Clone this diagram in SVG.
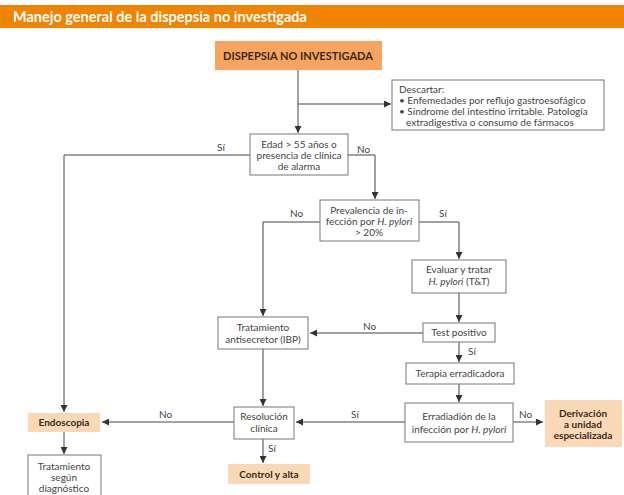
<svg xmlns="http://www.w3.org/2000/svg" width="624" height="495" viewBox="0 0 624 495">
<defs>
<marker id="arr" viewBox="0 0 10 10" refX="10" refY="5" markerWidth="7" markerHeight="7" markerUnits="userSpaceOnUse" orient="auto">
<path d="M0,0 L10,5 L0,10 z" fill="#333"/>
</marker>
<style>
text{font-family:Lato,"Liberation Sans",sans-serif;fill:#444;font-size:10px}
.c{text-anchor:middle}
.b{font-weight:bold;fill:#3a2a1a}
.box{fill:#fff;stroke:#777;stroke-width:1}
.pe{fill:#fbd9b6}
.ln{fill:none;stroke:#444;stroke-width:1}
.lbl{font-size:10px}
</style>
</defs>
<rect width="624" height="495" fill="#fff"/>
<g id="header">
<rect x="0" y="5" width="624" height="23" fill="#f08400"/>
<text x="13" y="21.5" style="font-size:14.5px;font-weight:bold;fill:#fff">Manejo general de la dispepsia no investigada</text>
</g>
<g id="connectors">
<path class="ln" d="M298,70 V133" marker-end="url(#arr)"/>
<path class="ln" d="M298,104 H391" marker-end="url(#arr)"/>
<path class="ln" d="M250,155 H64 V412" marker-end="url(#arr)"/>
<path class="ln" d="M348,155 H375 V199" marker-end="url(#arr)"/>
<path class="ln" d="M320,222 H263 V316" marker-end="url(#arr)"/>
<path class="ln" d="M419,222 H459 V259" marker-end="url(#arr)"/>
<path class="ln" d="M459,293 V322" marker-end="url(#arr)"/>
<path class="ln" d="M423,333 H310" marker-end="url(#arr)"/>
<path class="ln" d="M459,342 V362" marker-end="url(#arr)"/>
<path class="ln" d="M459,384 V402" marker-end="url(#arr)"/>
<path class="ln" d="M263,349 V406" marker-end="url(#arr)"/>
<path class="ln" d="M405,422 H296" marker-end="url(#arr)"/>
<path class="ln" d="M513,422 H543" marker-end="url(#arr)"/>
<path class="ln" d="M234,422 H102" marker-end="url(#arr)"/>
<path class="ln" d="M64,432 V454" marker-end="url(#arr)"/>
<path class="ln" d="M263,439 V463" marker-end="url(#arr)"/>
<text class="lbl" x="217" y="151">Sí</text>
<text class="lbl" x="357" y="153">No</text>
<text class="lbl" x="290" y="217">No</text>
<text class="lbl" x="439" y="217">Sí</text>
<text class="lbl" x="363" y="330">No</text>
<text class="lbl" x="468" y="355">Sí</text>
<text class="lbl" x="351" y="418">Sí</text>
<text class="lbl" x="519" y="418">No</text>
<text class="lbl" x="159" y="418">No</text>
<text class="lbl" x="268" y="452">Sí</text>
</g>
<g id="n-dispepsia">
<rect x="215" y="41" width="167" height="29" fill="#f6a460"/>
<text class="c b" x="298" y="59.5" style="font-size:11px">DISPEPSIA NO INVESTIGADA</text>
</g>
<g id="n-descartar">
<rect class="box" x="392" y="80" width="212" height="50"/>
<text x="399" y="93">Descartar:</text>
<text x="399" y="104">•  Enfemedades por reflujo gastroesofágico</text>
<text x="399" y="115">•  Síndrome del intestino irritable. Patología</text>
<text x="406" y="126">extradigestiva o consumo de fármacos</text>
</g>
<g id="n-edad">
<rect class="box" x="250" y="134" width="98" height="41"/>
<text class="c" x="299" y="148">Edad &gt; 55 años o</text>
<text class="c" x="299" y="159">presencia de clínica</text>
<text class="c" x="299" y="170">de alarma</text>
</g>
<g id="n-prevalencia">
<rect class="box" x="320" y="200" width="99" height="41"/>
<text class="c" x="369" y="214">Prevalencia de in-</text>
<text class="c" x="369" y="225">fección por <tspan font-style="italic">H. pylori</tspan></text>
<text class="c" x="369" y="236">&gt; 20%</text>
</g>
<g id="n-evaluar">
<rect class="box" x="412" y="260" width="94" height="33"/>
<text class="c" x="459" y="273">Evaluar y tratar</text>
<text class="c" x="459" y="285"><tspan font-style="italic">H. pylori</tspan> (T&amp;T)</text>
</g>
<g id="n-test">
<rect class="box" x="423" y="323" width="72" height="19"/>
<text class="c" x="459" y="336">Test positivo</text>
</g>
<g id="n-tratamiento">
<rect class="box" x="218" y="317" width="90" height="32"/>
<text class="c" x="263" y="331">Tratamiento</text>
<text class="c" x="263" y="343">antisecretor (IBP)</text>
</g>
<g id="n-terapia">
<rect class="box" x="406" y="363" width="108" height="21"/>
<text class="c" x="460" y="377">Terapia erradicadora</text>
</g>
<g id="n-erradiadion">
<rect class="box" x="405" y="403" width="108" height="39"/>
<text class="c" x="459" y="420">Erradiadión de la</text>
<text class="c" x="459" y="433">infección por <tspan font-style="italic">H. pylori</tspan></text>
</g>
<g id="n-derivacion">
<rect class="pe" x="545" y="400" width="77" height="47"/>
<text class="c b" x="583" y="417">Derivación</text>
<text class="c b" x="583" y="428">a unidad</text>
<text class="c b" x="583" y="439">especializada</text>
</g>
<g id="n-resolucion">
<rect class="box" x="234" y="407" width="60" height="32"/>
<text class="c" x="264" y="420">Resolución</text>
<text class="c" x="264" y="432">clínica</text>
</g>
<g id="n-endoscopia">
<rect class="pe" x="28" y="413" width="72" height="19"/>
<text class="c b" x="64" y="426">Endoscopia</text>
</g>
<g id="n-control">
<rect class="pe" x="228" y="464" width="82" height="20"/>
<text class="c b" x="269" y="478">Control y alta</text>
</g>
<g id="n-tratamiento-segun">
<rect class="box" x="28" y="455" width="73" height="45"/>
<text class="c" x="64" y="470">Tratamiento</text>
<text class="c" x="64" y="481">según</text>
<text class="c" x="64" y="492">diagnóstico</text>
</g>
</svg>
